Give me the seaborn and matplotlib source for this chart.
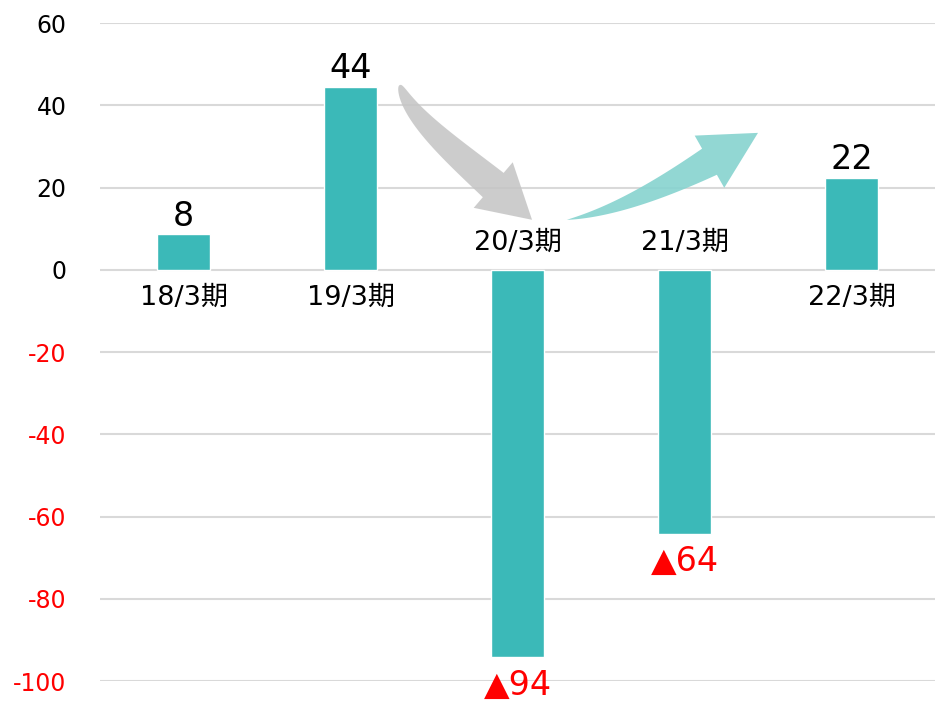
import matplotlib
matplotlib.use("Agg")
import numpy as np
import pandas as pd
import seaborn as sns
import matplotlib.pyplot as plt
from matplotlib.patches import Polygon
from matplotlib.transforms import IdentityTransform

# データ
periods = ['18/3期', '19/3期', '20/3期', '21/3期', '22/3期']
values = [8.7, 44.5, -94.1, -64.2, 22.4]
value_labels = ['8', '44', '▲94', '▲64', '22']
yticks = [60, 40, 20, 0, -20, -40, -60, -80, -100]

bar_color = '#3bb9b8'
df = pd.DataFrame({'period': periods, 'value': values})

sns.set_style('white')
plt.rcParams['font.family'] = ['DejaVu Sans', 'Noto Sans CJK JP']

fig = plt.figure(figsize=(9.35, 7.02), dpi=100)
ax = fig.add_axes([0.107, 0.0299, 0.893, 0.9373])

sns.barplot(data=df, x='period', y='value', color=bar_color, saturation=1,
            width=0.32, ax=ax, zorder=3)

ax.set_xlim(-0.5, 4.5)
ax.set_ylim(-100, 60)
ax.set_yticks(yticks)
ax.set_yticklabels([str(t) for t in yticks], fontsize=17)
for lbl, t in zip(ax.get_yticklabels(), yticks):
    lbl.set_color('red' if t < 0 else 'black')
ax.tick_params(axis='y', length=0, pad=24)
ax.set_xticks([])
ax.set_xlabel('')
ax.set_ylabel('')
ax.yaxis.grid(True, color='#d9d9d9', linewidth=1.5, zorder=0)
for s in ax.spines.values():
    s.set_visible(False)

# 値ラベル
neg_offset = {2: -9, 3: -8}
for i, (v, lab) in enumerate(zip(values, value_labels)):
    if v >= 0:
        ax.annotate(lab, (i, v), xytext=(0, 1), textcoords='offset points',
                    ha='center', va='bottom', fontsize=24, color='black')
    else:
        ax.annotate(lab, (i, v), xytext=(0, neg_offset[i]), textcoords='offset points',
                    ha='center', va='top', fontsize=24, color='red',
                    annotation_clip=False)

# 期ラベル (20/3, 21/3 は上側)
for i, (p, v) in enumerate(zip(periods, values)):
    y = -6.8 if v >= 0 else 6.6
    ax.text(i, y, p, ha='center', va='center', fontsize=19.5, color='black', zorder=4)


# 矢印 (先細りの曲線矢印, 3次ベジェ)
def curved_arrow(ax, ctrl, neck_w, head_w, head_len, power, color, alpha):
    P = ax.transData.transform(np.array(ctrl))
    t = np.linspace(0, 1, 300)[:, None]
    pts = ((1 - t) ** 3 * P[0] + 3 * (1 - t) ** 2 * t * P[1]
           + 3 * (1 - t) * t ** 2 * P[2] + t ** 3 * P[3])
    seg = np.hypot(*np.diff(pts, axis=0).T)
    L = np.concatenate([[0], np.cumsum(seg)])
    keep = L <= L[-1] - head_len
    body = pts[keep]
    d = np.gradient(body, axis=0)
    d /= np.hypot(d[:, 0], d[:, 1])[:, None]
    nrm = np.column_stack([-d[:, 1], d[:, 0]])
    s = L[keep] / L[keep][-1]
    w = (neck_w / 2 * s ** power)[:, None]
    left = body + nrm * w
    right = body - nrm * w
    neck = body[-1]
    hn = nrm[-1] * head_w / 2
    verts = np.vstack([left, [neck + hn], [P[3]], [neck - hn], right[::-1]])
    ax.add_artist(Polygon(verts, closed=True, facecolor=color, edgecolor='none',
                          alpha=alpha, transform=IdentityTransform(), zorder=2))


curved_arrow(ax, [(1.296, 44.96), (1.368, 35.24), (1.775, 24.30), (2.087, 12.15)],
             32, 60, 52, 0.45, '#c4c4c4', 0.85)
curved_arrow(ax, [(2.296, 12.15), (2.644, 14.58), (3.033, 23.09), (3.440, 33.29)],
             30, 60, 56, 0.9, '#86d3cf', 0.9)

fig.savefig('out.png', dpi=100)
